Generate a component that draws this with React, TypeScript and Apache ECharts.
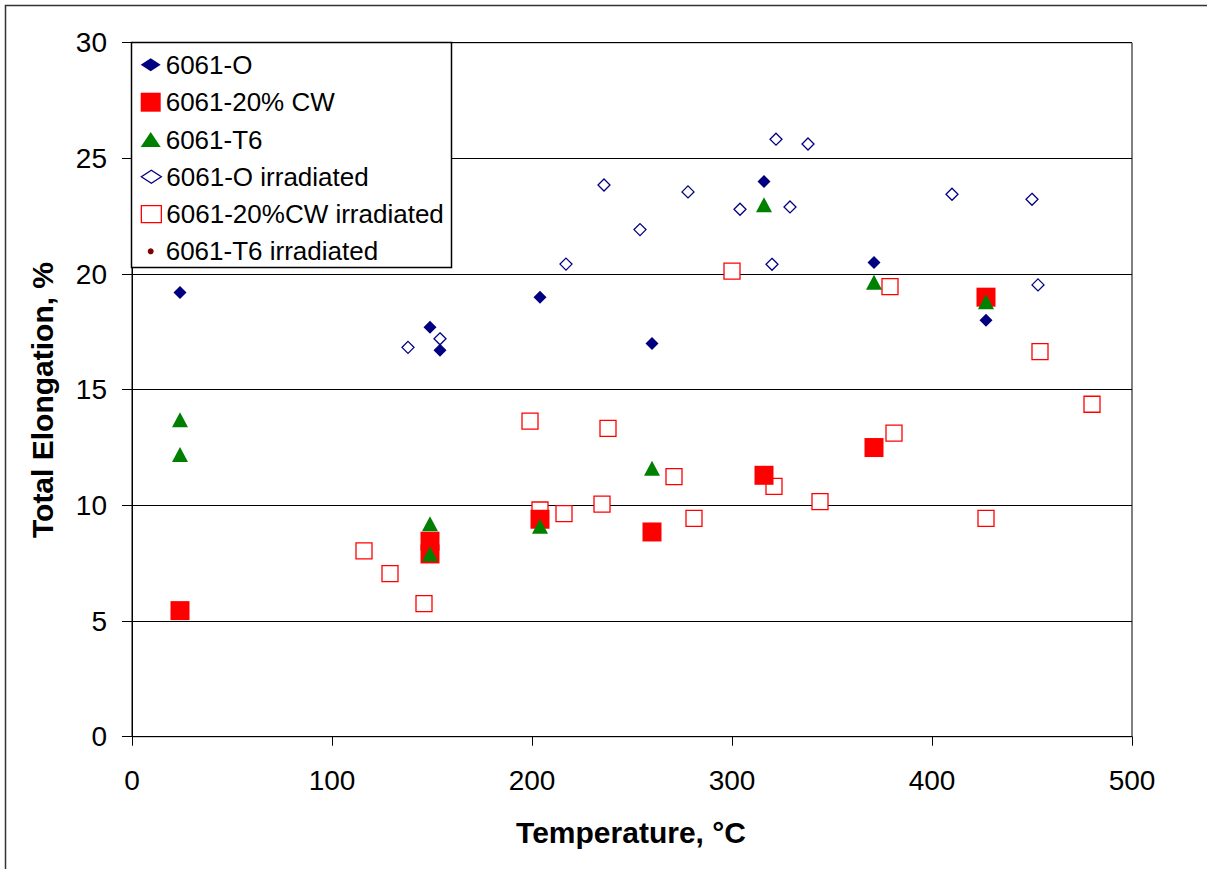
import React, { useEffect, useRef } from "react";
import * as echarts from "echarts";

// ---- Data (Temperature °C, Total Elongation %) ----
const oTemp = [24, 149, 154, 204, 260, 316, 371, 427];
const oElong = [19.2, 17.7, 16.7, 19.0, 17.0, 24.0, 20.5, 18.0];

const cwTemp = [24, 149, 149, 204, 260, 316, 371, 427];
const cwElong = [5.45, 8.45, 7.9, 9.4, 8.85, 11.3, 12.5, 19.0];

const t6Temp = [24, 24, 149, 149, 204, 260, 316, 371, 427];
const t6Elong = [13.7, 12.2, 9.2, 7.9, 9.1, 11.6, 23.0, 19.65, 18.8];

const oIrrTemp = [138, 154, 217, 236, 254, 278, 304, 320, 322, 329, 338, 410, 450, 453];
const oIrrElong = [16.83, 17.2, 20.43, 23.85, 21.92, 23.55, 22.8, 20.42, 25.83, 22.9, 25.62, 23.45, 23.23, 19.53];

const cwIrrTemp = [116, 129, 146, 199, 204, 216, 235, 238, 271, 281, 300, 321, 344, 379, 381, 427, 454, 480];
const cwIrrElong = [8.03, 7.05, 5.75, 13.64, 9.8, 9.64, 10.05, 13.33, 11.24, 9.44, 20.13, 10.82, 10.16, 19.46, 13.12, 9.44, 16.65, 14.37];

const t6IrrTemp: number[] = [];
const t6IrrElong: number[] = [];

const seriesNames = [
  "6061-O",
  "6061-20% CW",
  "6061-T6",
  "6061-O irradiated",
  "6061-20%CW irradiated",
  "6061-T6 irradiated",
];

const xTitle = "Temperature, °C";
const yTitle = "Total Elongation, %";

const FONT = "'Liberation Sans', Arial, Helvetica, sans-serif";

function pairs(xs: number[], ys: number[]) {
  return xs.map((x, i) => [x, ys[i]]);
}

export default function App() {
  const ref = useRef<HTMLDivElement>(null);

  useEffect(() => {
    if (!ref.current) return;
    const chart = echarts.init(ref.current, undefined, { renderer: "svg" });

    const legendRows = [64.7, 102.2, 139.5, 176.8, 214.1, 251.3];
    const legendIconH = [13, 19, 15, 13, 17, 6];
    const legendBorder = [0, 0, 0, 1.3, 1.3, 0];
    const legendLeft = [140.7, 140.7, 140.7, 140.7, 140.7, 147.7];

    const legends = seriesNames.map((name, i) => ({
      data: [name],
      orient: "vertical",
      left: legendLeft[i],
      top: legendRows[i] - 13,
      padding: 0,
      itemWidth: 20,
      itemHeight: legendIconH[i],
      symbolKeepAspect: true,
      selectedMode: false,
      z: 20,
      itemStyle: { borderWidth: legendBorder[i] },
      textStyle: { fontSize: 26, fontFamily: FONT, color: "#000", lineHeight: 26 },
    }));

    const option: any = {
      animation: false,
      backgroundColor: "#fff",
      grid: {
        left: 132,
        top: 42.7,
        width: 1000,
        height: 694,
        show: true,
        borderColor: "#000",
        borderWidth: 1,
        backgroundColor: "transparent",
      },
      legend: legends,
      xAxis: {
        type: "value",
        min: 0,
        max: 500,
        interval: 100,
        axisLine: { show: true, onZero: false, lineStyle: { color: "#000", width: 1 } },
        axisTick: { show: true, length: 9, lineStyle: { color: "#000" } },
        splitLine: { show: false },
        axisLabel: { fontSize: 28, fontFamily: FONT, color: "#000", margin: 30 },
      },
      yAxis: {
        type: "value",
        min: 0,
        max: 30,
        interval: 5,
        axisLine: { show: true, onZero: false, lineStyle: { color: "#000", width: 1 } },
        axisTick: { show: true, length: 10, lineStyle: { color: "#000" } },
        splitLine: { show: true, lineStyle: { color: "#000", width: 1 } },
        axisLabel: { fontSize: 28, fontFamily: FONT, color: "#000", margin: 25 },
      },
      graphic: [
        {
          type: "rect",
          z: 0,
          silent: true,
          shape: { x: 5.5, y: 5.5, width: 1220, height: 900 },
          style: { fill: "none", stroke: "#333", lineWidth: 1.5 },
        },
        {
          type: "rect",
          z: 15,
          silent: true,
          shape: { x: 131.5, y: 42.5, width: 320, height: 225 },
          style: { fill: "#fff", stroke: "#000", lineWidth: 1.5 },
        },
        {
          type: "text",
          x: 631,
          y: 832,
          silent: true,
          style: {
            text: xTitle,
            font: `bold 30px ${FONT}`,
            fill: "#000",
            align: "center",
            verticalAlign: "middle",
            textAlign: "center",
            textVerticalAlign: "middle",
          },
        },
        {
          type: "text",
          x: 42.5,
          y: 400,
          rotation: Math.PI / 2,
          silent: true,
          style: {
            text: yTitle,
            font: `bold 30px ${FONT}`,
            fill: "#000",
            align: "center",
            verticalAlign: "middle",
            textAlign: "center",
            textVerticalAlign: "middle",
          },
        },
      ],
      series: [
        {
          name: seriesNames[3],
          type: "scatter",
          symbol: "diamond",
          symbolSize: 12,
          itemStyle: { color: "#fff", borderColor: "#000080", borderWidth: 1.3, opacity: 1 },
          data: pairs(oIrrTemp, oIrrElong),
          z: 2,
        },
        {
          name: seriesNames[4],
          type: "scatter",
          symbol: "rect",
          symbolSize: 16,
          itemStyle: { color: "#fff", borderColor: "#ff0000", borderWidth: 1.3, opacity: 1 },
          data: pairs(cwIrrTemp, cwIrrElong),
          z: 3,
        },
        {
          name: seriesNames[5],
          type: "scatter",
          symbol: "circle",
          symbolSize: 6,
          itemStyle: { color: "#800000", opacity: 1 },
          data: pairs(t6IrrTemp, t6IrrElong),
          z: 4,
        },
        {
          name: seriesNames[0],
          type: "scatter",
          symbol: "diamond",
          symbolSize: 13,
          itemStyle: { color: "#000080", opacity: 1 },
          data: pairs(oTemp, oElong),
          z: 5,
        },
        {
          name: seriesNames[1],
          type: "scatter",
          symbol: "rect",
          symbolSize: 19,
          itemStyle: { color: "#ff0000", opacity: 1 },
          data: pairs(cwTemp, cwElong),
          z: 6,
        },
        {
          name: seriesNames[2],
          type: "scatter",
          symbol: "triangle",
          symbolSize: [16, 15],
          itemStyle: { color: "#008000", opacity: 1 },
          data: pairs(t6Temp, t6Elong),
          z: 7,
        },
      ],
    };

    chart.setOption(option);
    return () => {
      chart.dispose();
    };
  }, []);

  return (
    <div
      ref={ref}
      style={{ position: "absolute", left: 0, top: 0, width: 1207, height: 869, background: "#fff" }}
    />
  );
}
